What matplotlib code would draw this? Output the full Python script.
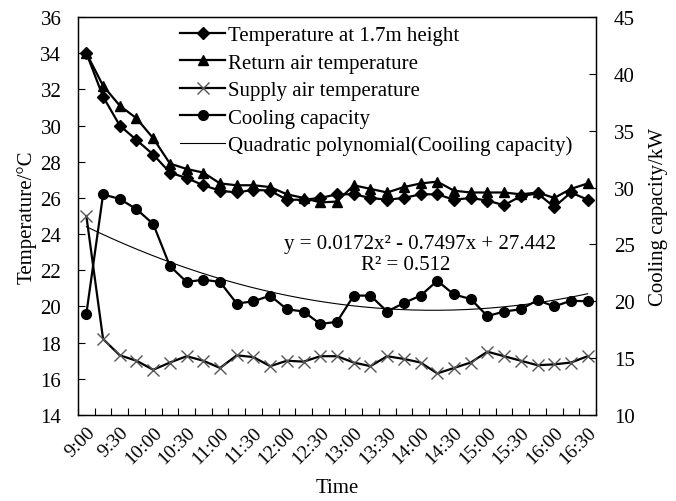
import matplotlib
matplotlib.use("Agg")
import matplotlib.pyplot as plt
import numpy as np

plt.rcParams['font.family'] = ['Liberation Serif', 'DejaVu Serif']

times = ["9:00", "9:15", "9:30", "9:45", "10:00", "10:15", "10:30", "10:45",
         "11:00", "11:15", "11:30", "11:45", "12:00", "12:15", "12:30", "12:45",
         "13:00", "13:15", "13:30", "13:45", "14:00", "14:15", "14:30", "14:45",
         "15:00", "15:15", "15:30", "15:45", "16:00", "16:15", "16:30"]

temp_17m = [34.0, 31.6, 30.0, 29.2, 28.4, 27.4, 27.1, 26.7, 26.4, 26.3, 26.45,
            26.4, 25.9, 25.9, 26.0, 26.2, 26.2, 26.0, 25.9, 26.0, 26.2, 26.2,
            25.9, 26.0, 25.85, 25.6, 26.1, 26.25, 25.5, 26.3, 25.9]
return_air = [34.0, 32.2, 31.1, 30.4, 29.3, 27.9, 27.6, 27.4, 26.8, 26.7, 26.7,
              26.6, 26.2, 26.0, 25.75, 25.8, 26.7, 26.5, 26.3, 26.6, 26.8, 26.9,
              26.4, 26.3, 26.3, 26.3, 26.2, 26.3, 26.0, 26.5, 26.8]
supply_air = [25.0, 18.2, 17.3, 17.0, 16.5, 16.9, 17.25, 17.0, 16.6, 17.3, 17.2,
              16.7, 17.0, 16.95, 17.25, 17.25, 16.9, 16.7, 17.25, 17.1, 16.9, 16.3,
              16.6, 16.9, 17.5, 17.25, 17.0, 16.75, 16.8, 16.9, 17.25]
cooling = [18.9, 29.4, 29.0, 28.1, 26.8, 23.1, 21.7, 21.9, 21.7, 19.8, 20.0,
           20.5, 19.3, 19.1, 18.0, 18.2, 20.5, 20.5, 19.1, 19.85, 20.5, 21.8,
           20.6, 20.2, 18.7, 19.1, 19.3, 20.1, 19.55, 20.05, 20.0]

left_ticks = [14, 16, 18, 20, 22, 24, 26, 28, 30, 32, 34, 36]
right_ticks = [10, 15, 20, 25, 30, 35, 40, 45]

fig = plt.figure(figsize=(6.76, 5.02), dpi=100)
ax = fig.add_axes([0.1154, 0.1713, 0.7663, 0.7928])
ax2 = ax.twinx()

x = np.arange(len(times))
fs = 15

l1, = ax.plot(x, temp_17m, color='black', lw=1.6, marker='D', ms=6,
              label='Temperature at 1.7m height')
l2, = ax.plot(x, return_air, color='black', lw=1.6, marker='^', ms=7,
              label='Return air temperature')
l3, = ax.plot(x, supply_air, color='black', lw=1.6, marker='x', ms=8,
              mec='#555555', mew=1.0, label='Supply air temperature')
l4, = ax2.plot(x, cooling, color='black', lw=1.6, marker='o', ms=7,
               label='Cooling capacity')
coef = np.polyfit(x + 1, cooling, 2)
xf = np.linspace(0, len(times) - 1, 200)
l5, = ax2.plot(xf, np.polyval(coef, xf + 1), color='black', lw=0.8,
               label='Quadratic polynomial(Cooiling capacity)')

ax.set_xlim(-0.5, len(times) - 0.5)
ax.set_ylim(14, 36)
ax2.set_ylim(10, 45)
ax.set_yticks(left_ticks)
ax2.set_yticks(right_ticks)
ax.set_xticks(x[::2])
ax.set_xticklabels(times[::2], rotation=45, ha='right', rotation_mode='anchor',
                   fontsize=14)
ax.set_xticks(np.arange(-0.5, len(times), 1), minor=True)
ax.tick_params(axis='x', which='major', length=0, pad=6)
ax.tick_params(axis='x', which='minor', direction='in', length=5, width=0.8)
ax.tick_params(axis='y', direction='in', length=5, width=0.8, labelsize=fs, pad=12)
ax2.tick_params(axis='y', direction='in', length=5, width=0.8, labelsize=fs, pad=13)
for a in (ax, ax2):
    for s in a.spines.values():
        s.set_linewidth(0.9)

ax.set_xlabel('Time', fontsize=fs, labelpad=8)
ax.set_ylabel('Temperature/°C', fontsize=fs, labelpad=3)
ax2.set_ylabel('Cooling capacity/kW', fontsize=fs, labelpad=10)

ax.text(0.661, 0.432, 'y = 0.0172x² - 0.7497x + 27.442', transform=ax.transAxes,
        fontsize=fs, ha='center', va='center')
ax.text(0.632, 0.378, 'R² = 0.512', transform=ax.transAxes,
        fontsize=fs, ha='center', va='center')

leg = ax.legend(handles=[l1, l2, l3, l4, l5], loc='upper left',
                bbox_to_anchor=(0.172, 1.01), frameon=False, fontsize=fs,
                handlelength=2.2, handletextpad=0.1, labelspacing=0.38,
                borderaxespad=0.2)

fig.savefig('out.png', dpi=100)
